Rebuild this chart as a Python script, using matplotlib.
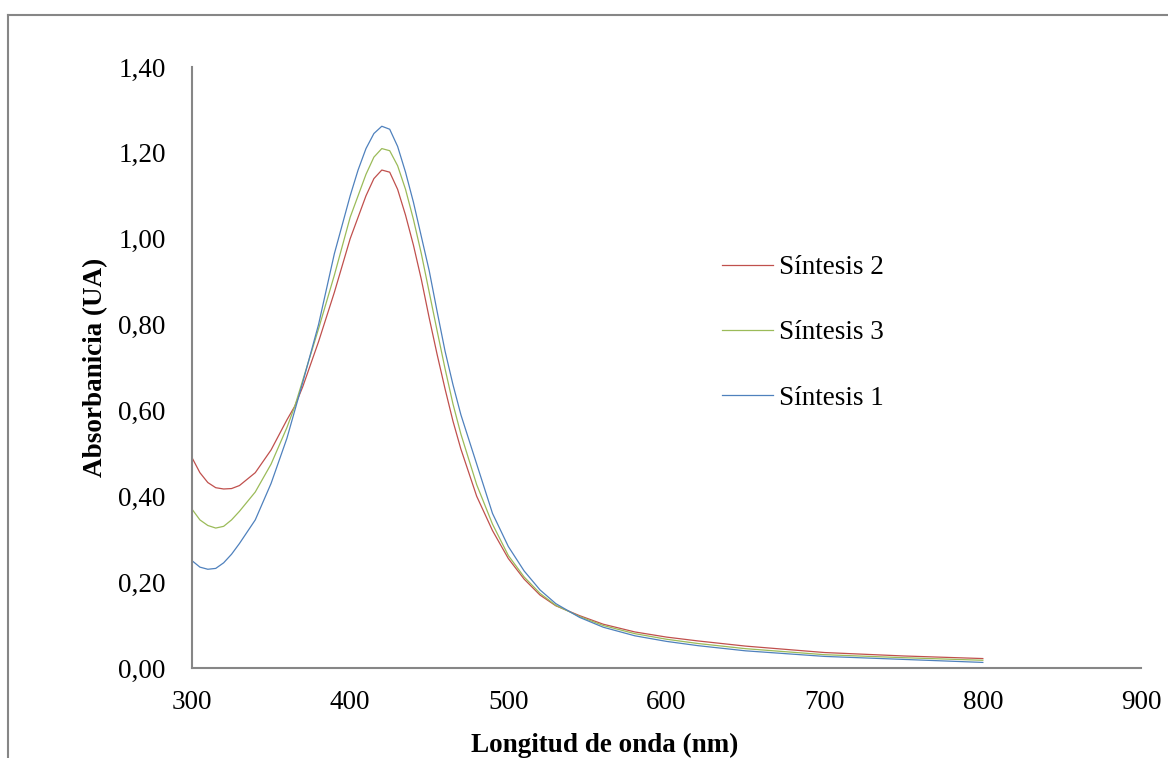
import matplotlib
matplotlib.use('Agg')
import matplotlib.pyplot as plt
from matplotlib.ticker import FuncFormatter, MultipleLocator
from matplotlib.lines import Line2D

# Wavelengths (nm) and absorbance
longitud = [300, 305, 310, 315, 320, 325, 330, 340, 350, 360, 365, 370, 380, 390,
            400, 405, 410, 415, 420, 425, 430, 435, 440, 445, 450, 455, 460, 465,
            470, 480, 490, 500, 510, 520, 530, 545, 560, 580, 600, 620, 650, 700,
            750, 800]

sintesis_2 = [0.49, 0.455, 0.432, 0.42, 0.417, 0.418, 0.425, 0.455, 0.508, 0.578,
              0.61, 0.655, 0.76, 0.875, 1.00, 1.05, 1.10, 1.14, 1.16, 1.155, 1.115,
              1.055, 0.985, 0.905, 0.815, 0.73, 0.65, 0.575, 0.51, 0.40, 0.32, 0.255,
              0.207, 0.17, 0.145, 0.122, 0.102, 0.084, 0.072, 0.063, 0.051, 0.036,
              0.028, 0.022]

sintesis_3 = [0.37, 0.345, 0.332, 0.326, 0.33, 0.345, 0.365, 0.41, 0.475, 0.56,
              0.61, 0.67, 0.79, 0.915, 1.05, 1.10, 1.15, 1.19, 1.21, 1.205, 1.17,
              1.115, 1.045, 0.965, 0.875, 0.785, 0.697, 0.615, 0.545, 0.427, 0.335,
              0.262, 0.212, 0.174, 0.146, 0.12, 0.099, 0.08, 0.067, 0.057, 0.045,
              0.031, 0.024, 0.018]

sintesis_1 = [0.25, 0.235, 0.23, 0.232, 0.245, 0.265, 0.29, 0.345, 0.43, 0.535,
              0.60, 0.665, 0.80, 0.965, 1.10, 1.16, 1.21, 1.245, 1.262, 1.255, 1.215,
              1.155, 1.085, 1.005, 0.925, 0.83, 0.738, 0.66, 0.59, 0.475, 0.36, 0.283,
              0.226, 0.182, 0.15, 0.118, 0.095, 0.075, 0.062, 0.052, 0.04, 0.027,
              0.02, 0.013]

fig = plt.figure(figsize=(11.68, 7.58), dpi=100)
plt.rcParams['font.family'] = ['Liberation Serif', 'DejaVu Serif']
fs = 19.5

# outer chart frame (cut off on the right and bottom)
gris = '#868686'
fig.add_artist(Line2D([8/1168, 8/1168], [0, 1 - 15/758], color=gris, lw=1.5, transform=fig.transFigure))
fig.add_artist(Line2D([8/1168, 1], [1 - 15/758, 1 - 15/758], color=gris, lw=1.5, transform=fig.transFigure))

ax = fig.add_axes([192/1168, 1 - 668/758, (1141 - 192)/1168, (668 - 67)/758])

ax.plot(longitud, sintesis_2, color='#C0504D', lw=0.9, label='Síntesis 2')
ax.plot(longitud, sintesis_3, color='#9BBB59', lw=0.9, label='Síntesis 3')
ax.plot(longitud, sintesis_1, color='#4F81BD', lw=0.9, label='Síntesis 1')

ax.set_xlim(300, 900)
ax.set_ylim(0, 1.40)
ax.xaxis.set_major_locator(MultipleLocator(100))
ax.yaxis.set_major_locator(MultipleLocator(0.2))
ax.yaxis.set_major_formatter(FuncFormatter(lambda v, p: f'{v:.2f}'.replace('.', ',')))

for s in ['top', 'right']:
    ax.spines[s].set_visible(False)
for s in ['left', 'bottom']:
    ax.spines[s].set_color(gris)
    ax.spines[s].set_linewidth(1.5)

ax.tick_params(length=0, labelsize=fs)
ax.tick_params(axis='y', pad=19)
ax.tick_params(axis='x', pad=16)

fig.text(605/1168, 1 - 745/758, 'Longitud de onda (nm)', ha='center', va='center',
         fontsize=fs, fontweight='bold')
fig.text(96/1168, 1 - 367/758, 'Absorbanicia (UA)', ha='center', va='center',
         rotation=90, fontsize=fs, fontweight='bold')

leg = ax.legend(loc='upper left', bbox_to_anchor=((722 - 192)/949, (668 - 255)/601),
                frameon=False, fontsize=fs, handlelength=1.9, handletextpad=0.2,
                labelspacing=1.49, borderpad=0, borderaxespad=0)

fig.savefig('out.png', dpi=100)
